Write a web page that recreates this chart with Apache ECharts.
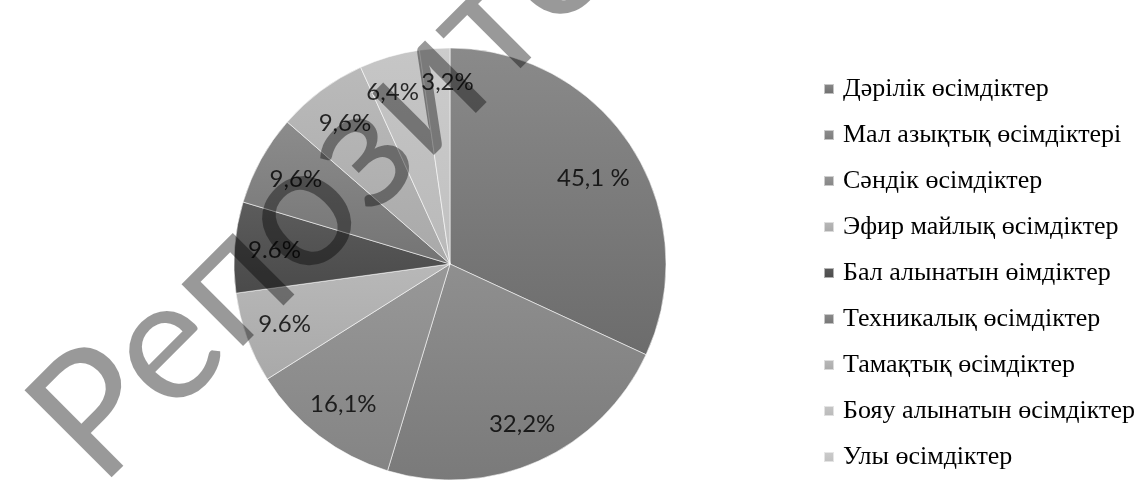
<!DOCTYPE html>
<html>
<head>
<meta charset="utf-8">
<script src="https://cdn.jsdelivr.net/npm/echarts@6/dist/echarts.min.js"></script>
<style>
html,body{margin:0;padding:0;background:#fff;}
#chart{width:1145px;height:480px;}
</style>
</head>
<body>
<div id="chart"></div>
<script>
const categories = [
  'Дәрілік өсімдіктер',
  'Мал азықтық өсімдіктері',
  'Сәндік өсімдіктер',
  'Эфир майлық өсімдіктер',
  'Бал алынатын өімдіктер',
  'Техникалық өсімдіктер',
  'Тамақтық өсімдіктер',
  'Бояу алынатын өсімдіктер',
  'Улы өсімдіктер'
];
const values = [45.1, 32.2, 16.1, 9.6, 9.6, 9.6, 9.6, 6.4, 3.2];
const labelTexts = ['45,1 %', '32,2%', '16,1%', '9.6%', '9.6%', '9,6%', '9,6%', '6,4%', '3,2%'];
const topColors = ['#8a8a8a', '#8f8f8f', '#989898', '#b8b8b8', '#5c5c5c', '#8c8c8c', '#bababa', '#c6c6c6', '#cccccc'];
const bottomColors = ['#6c6c6c', '#7a7a7a', '#848484', '#a9a9a9', '#4a4a4a', '#747474', '#a9a9a9', '#b9b9b9', '#c0c0c0'];
const watermark = 'Репозиторий';

const total = values.reduce((a, b) => a + b, 0);
const mids = [];
let acc = 0;
values.forEach(v => { mids.push(acc + v / 2); acc += v; });

function grad(i) {
  return new echarts.graphic.LinearGradient(0, 0, 0, 1, [
    { offset: 0, color: topColors[i] },
    { offset: 1, color: bottomColors[i] }
  ]);
}

const pieData = categories.map((c, i) => ({
  name: c,
  value: values[i],
  itemStyle: { color: grad(i) }
}));
const LABEL_R = 0.815;
// small manual label nudges (like Excel's collision placement)
const labelNudge = { 0: [-5, 9], 7: [-8, -3], 8: [10, -6] };
const labelData = categories.map((c, i) => ({
  value: [LABEL_R, mids[i]],
  label: { formatter: labelTexts[i], offset: labelNudge[i] || [0, 0] }
}));

const chart = echarts.init(document.getElementById('chart'), null, { renderer: 'canvas' });
chart.setOption({
  animation: false,
  backgroundColor: '#ffffff',
  polar: { center: [450, 264], radius: 216 },
  angleAxis: {
    type: 'value', min: 0, max: total, startAngle: 90, clockwise: true,
    show: false, axisLine: { show: false }, splitLine: { show: false }, axisLabel: { show: false }, axisTick: { show: false }
  },
  radiusAxis: {
    type: 'value', min: 0, max: 1,
    show: false, axisLine: { show: false }, splitLine: { show: false }, axisLabel: { show: false }, axisTick: { show: false }
  },
  legend: {
    orient: 'vertical',
    left: 818,
    top: 71,
    icon: 'rect',
    itemWidth: 10,
    itemHeight: 10,
    itemGap: 20,
    data: categories,
    selectedMode: false,
    textStyle: {
      fontFamily: '"Liberation Serif", "Times New Roman", serif',
      fontSize: 26,
      lineHeight: 26,
      color: '#000',
      padding: [0, 0, 0, 4]
    }
  },
  series: [
    {
      type: 'pie',
      center: [450, 264],
      radius: [0, 216],
      startAngle: 90,
      clockwise: true,
      silent: true,
      label: { show: false },
      labelLine: { show: false },
      itemStyle: { borderColor: 'rgba(255,255,255,0.55)', borderWidth: 1 },
      data: pieData
    },
    {
      type: 'scatter',
      coordinateSystem: 'polar',
      symbolSize: 0,
      silent: true,
      z: 5,
      label: {
        show: true,
        position: 'inside',
        fontFamily: 'Lato, "Open Sans", sans-serif',
        fontSize: 24,
        color: '#000'
      },
      data: labelData
    }
  ],
  graphic: [
    {
      type: 'text',
      x: 122,
      y: 510,
      rotation: Math.PI / 4,
      z: 100,
      silent: true,
      style: {
        text: watermark,
        font: '172px Lato, "Open Sans", sans-serif',
        fill: 'rgba(0,0,0,0.4)',
        textAlign: 'left',
        textVerticalAlign: 'bottom'
      }
    }
  ]
});
</script>
</body>
</html>
